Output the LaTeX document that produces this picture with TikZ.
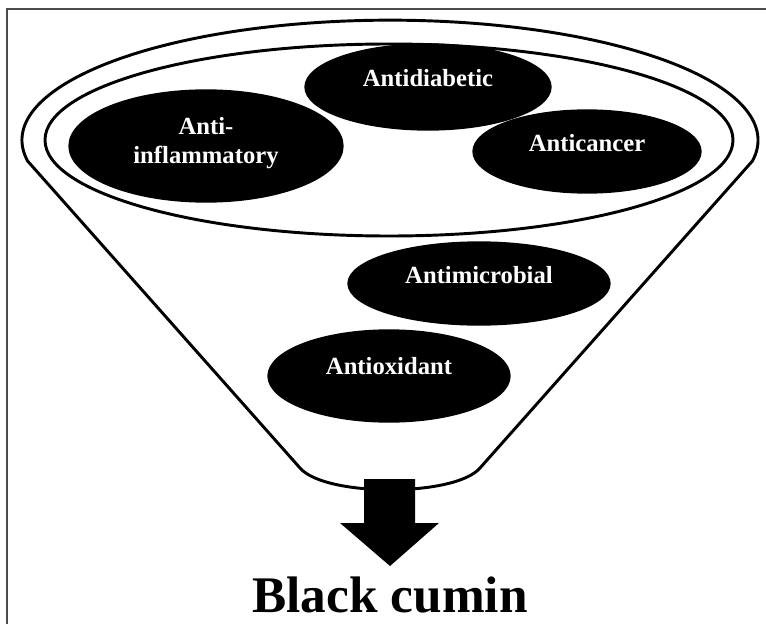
\documentclass[tikz,border=0pt]{standalone}
\usepackage{fontspec}
\setmainfont{Liberation Serif}
\usetikzlibrary{shapes.geometric}

\tikzset{
  frame/.style={draw=black!70, line width=0.9pt},
  funnel/.style={line width=2.2pt, line join=round},
  bubble/.style 2 args={ellipse, fill=black, draw=black, line width=1pt,
    inner sep=0pt, minimum width={#1*1.5pt}, minimum height={#2*1.5pt}},
  bubtext/.style={text=white, font=\bfseries\fontsize{18.5}{21}\selectfont,
    align=center, anchor=base, inner sep=0pt},
}

\begin{document}
\begin{tikzpicture}[x=0.75pt, y=-0.75pt]
  \useasboundingbox (0,0) rectangle (766,624);
  \draw[frame] (7,624) |- (766,9);
  % funnel outline and rim
  \draw[funnel] (27.6,161) arc[start angle=170, end angle=370, x radius=368, y radius=120]
    -- (480,468) .. controls (455,497) and (325,497) .. (300,468) -- cycle;
  \draw[funnel] (389,140) ellipse [x radius=344, y radius=96];
  % arrow out of the funnel
  \fill (364,479) -- (415,479) -- (415,523) -- (439,523) -- (390,566)
    -- (340,523) -- (364,523) -- cycle;
  % properties
  \node[bubble={123}{43}] (diab) at (428,87) {};
  \node[bubtext] at (diab.center) {Antidiabetic};
  \node[bubble={137}{56}] (inflam) at (206,146) {};
  \node[bubtext, yshift=-12.75pt] at (inflam.center) {Anti-\\inflammatory};
  \node[bubble={114}{41.5}] (cancer) at (587,151.5) {};
  \node[bubtext] at (cancer.center) {Anticancer};
  \node[bubble={131}{41.5}] (microb) at (479,283.5) {};
  \node[bubtext] at (microb.center) {Antimicrobial};
  \node[bubble={121}{46}] (oxid) at (389,376) {};
  \node[bubtext, yshift=1.5pt] at (oxid.center) {Antioxidant};
  \node[anchor=base, inner sep=0pt,
    font=\bfseries\fontsize{38.5}{44}\selectfont] (cumin) at (390,612) {Black cumin};
\end{tikzpicture}
\end{document}
